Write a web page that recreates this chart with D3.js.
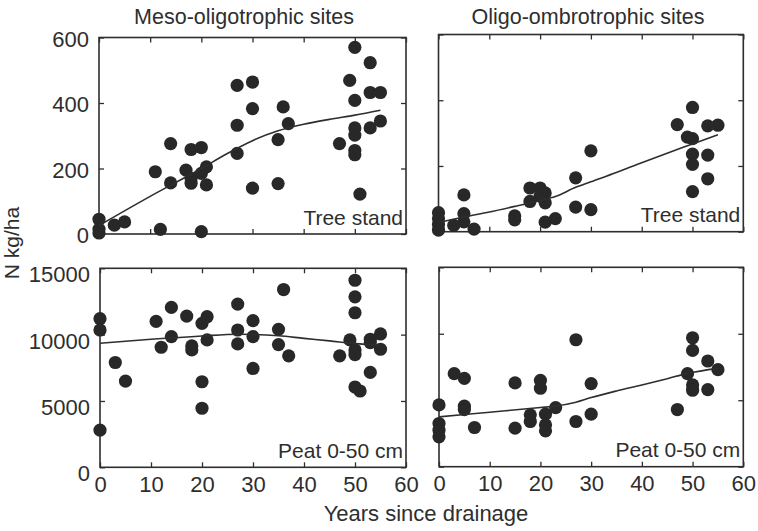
<!DOCTYPE html>
<html>
<head>
<meta charset="utf-8">
<script src="https://cdn.jsdelivr.net/npm/d3@7"></script>
<style>
  html, body { margin: 0; padding: 0; background: #fff; }
  svg { display: block; }
  text { font-family: "Liberation Sans", Arial, Helvetica, sans-serif; fill: #2e2e2e; }
</style>
</head>
<body>
<svg id="chart" width="758" height="531"></svg>
<script>
// Years since drainage — tick values shared by every panel
const yearTicks = [0, 10, 20, 30, 40, 50, 60];
const treeTicks = [0, 200, 400, 600];
const peatTicks = [0, 5000, 10000, 15000];

const columnTitles = ["Meso-oligotrophic sites", "Oligo-ombrotrophic sites"];
const rowLabels = ["Tree stand", "Peat 0-50 cm"];
const yAxisTitle = "N kg/ha";
const xAxisTitle = "Years since drainage";

// Meso-oligotrophic sites, tree stand
const mesoTreeYears = [0,0,0,3,5,11,12,14,14,17,18,18,18,20,20,20,21,21,27,27,27,30,30,30,35,35,36,37,47,49,50,50,50,50,50,50,51,53,53,53,55,55];
const mesoTreeN = [45,15,3,27,37,190,14,276,156,195,258,170,155,264,185,7,205,150,454,332,246,464,383,140,288,154,388,337,276,469,570,408,324,302,255,242,122,523,432,324,432,345];
const mesoTreeFitYears = [0,10,20,25,30,35,40,45,50,55];
const mesoTreeFitN = [26,115,200,245,285,315,335,350,363,378];

// Oligo-ombrotrophic sites, tree stand
const oligoTreeYears = [0,0,0,0,3,5,5,5,7,15,15,18,20,18,21,21,20,21,23,27,27,30,30,47,49,50,50,50,50,50,53,53,53,55];
const oligoTreeN = [58,40,22,5,19,112,55,30,8,48,36,133,133,92,118,88,108,29,40,164,75,67,246,326,288,283,378,236,205,122,322,233,161,324];
const oligoTreeFitYears = [0,5,10,15,20,23,27,30,35,40,45,50,55];
const oligoTreeFitN = [28,45,60,77,95,107,135,152,180,210,239,267,295];

// Meso-oligotrophic sites, peat 0-50 cm
const mesoPeatYears = [0,0,0,3,5,11,12,14,14,17,18,18,20,21,21,20,20,27,27,27,30,30,30,36,35,35,37,47,50,50,50,49,50,50,50,51,53,53,53,55,55];
const mesoPeatN = [11200,10350,2800,7900,6500,11000,9050,12050,9850,11400,9150,8850,10850,11350,9600,6450,4450,12300,10350,9300,11050,9850,7450,13400,10400,9250,8400,8400,14100,12850,11650,9600,8850,8500,6050,5750,9650,9400,7150,10050,8900];
const mesoPeatFitYears = [0,10,20,27,35,40,45,50,55];
const mesoPeatFitN = [9350,9650,9900,10030,9920,9720,9530,9320,9220];

// Oligo-ombrotrophic sites, peat 0-50 cm
const oligoPeatYears = [0,0,0,0,3,5,5,5,7,15,15,18,18,20,20,21,21,21,23,27,27,30,30,47,49,50,50,50,50,53,53,55];
const oligoPeatN = [4650,3250,2750,2250,7000,6650,4550,4300,2950,6300,2900,3900,3400,6500,5900,3950,3150,2700,4450,9550,3400,6250,3950,4300,7000,9700,8750,6150,5750,7950,5800,7300];
const oligoPeatFitYears = [0,10,20,23,27,30,35,40,45,49,55];
const oligoPeatFitN = [3750,4100,4450,4560,4850,5200,5700,6150,6620,7020,7400];

const ink = "#2e2e2e";
const svg = d3.select("#chart");

const panels = [
  { box: { left: 99, right: 406, bottom: 234, top: 37.5 }, yDomain: [0, 600], yTicks: treeTicks,
    xs: mesoTreeYears, ys: mesoTreeN, fx: mesoTreeFitYears, fy: mesoTreeFitN,
    label: rowLabels[0], title: columnTitles[0], showY: true, showX: false },
  { box: { left: 438.5, right: 743.3, bottom: 231.7, top: 34.5 }, yDomain: [0, 600], yTicks: treeTicks,
    xs: oligoTreeYears, ys: oligoTreeN, fx: oligoTreeFitYears, fy: oligoTreeFitN,
    label: rowLabels[0], title: columnTitles[1], showY: false, showX: false },
  { box: { left: 100, right: 406, bottom: 467.3, top: 268.3 }, yDomain: [0, 15000], yTicks: peatTicks,
    xs: mesoPeatYears, ys: mesoPeatN, fx: mesoPeatFitYears, fy: mesoPeatFitN,
    label: rowLabels[1], title: null, showY: true, showX: true },
  { box: { left: 439, right: 743.3, bottom: 466.7, top: 267.3 }, yDomain: [0, 15000], yTicks: peatTicks,
    xs: oligoPeatYears, ys: oligoPeatN, fx: oligoPeatFitYears, fy: oligoPeatFitN,
    label: rowLabels[1], title: null, showY: false, showX: true }
];

const titleX = [244, 588];

panels.forEach((p, i) => {
  const b = p.box;
  const x = d3.scaleLinear().domain([0, 60]).range([b.left, b.right]);
  const y = d3.scaleLinear().domain(p.yDomain).range([b.bottom, b.top]);
  const g = svg.append("g");

  // inward ticks on all four sides
  const styleAxis = sel => {
    sel.select(".domain").remove();
    sel.selectAll(".tick line").attr("stroke", ink).attr("stroke-width", 1.3);
    sel.selectAll(".tick text").style("font-size", "22px").attr("fill", ink);
  };
  g.append("g").attr("transform", `translate(0,${b.bottom})`)
    .call(d3.axisBottom(x).tickValues(yearTicks).tickSize(-5).tickPadding(9)
      .tickFormat(p.showX ? d3.format("d") : ""))
    .call(styleAxis);
  g.append("g").attr("transform", `translate(0,${b.top})`)
    .call(d3.axisTop(x).tickValues(yearTicks).tickSize(-5).tickFormat(""))
    .call(styleAxis);
  const left = g.append("g").attr("transform", `translate(${b.left},0)`)
    .call(d3.axisLeft(y).tickValues(p.yTicks).tickSize(-5).tickPadding(10)
      .tickFormat(p.showY ? d3.format("d") : ""))
    .call(styleAxis);
  left.selectAll(".tick text").attr("dy", i < 2 ? "0.4em" : "0.62em");
  g.append("g").attr("transform", `translate(${b.right},0)`)
    .call(d3.axisRight(y).tickValues(p.yTicks).tickSize(-5).tickFormat(""))
    .call(styleAxis);

  // frame
  g.append("rect")
    .attr("x", b.left).attr("y", b.top)
    .attr("width", b.right - b.left).attr("height", b.bottom - b.top)
    .attr("fill", "none").attr("stroke", ink).attr("stroke-width", 1.6);

  // observations
  g.append("g").selectAll("circle")
    .data(p.xs.map((v, k) => [v, p.ys[k]]))
    .join("circle")
    .attr("cx", d => x(d[0])).attr("cy", d => y(d[1]))
    .attr("r", 6.6).attr("fill", "#282828");

  // smoothed trend
  const line = d3.line().x(d => x(d[0])).y(d => y(d[1])).curve(d3.curveMonotoneX);
  g.append("path")
    .datum(p.fx.map((v, k) => [v, p.fy[k]]))
    .attr("d", line).attr("fill", "none").attr("stroke", ink).attr("stroke-width", 1.6);

  // panel label
  g.append("text")
    .attr("x", b.right - 3).attr("y", b.bottom - 9.5)
    .attr("text-anchor", "end").style("font-size", "21px")
    .text(p.label);

  if (p.title) {
    svg.append("text")
      .attr("x", titleX[i]).attr("y", 24)
      .attr("text-anchor", "middle").style("font-size", "21.5px")
      .text(p.title);
  }
});

svg.append("text")
  .attr("transform", "translate(19,243) rotate(-90)")
  .attr("text-anchor", "middle").style("font-size", "21px")
  .text(yAxisTitle);

svg.append("text")
  .attr("x", 426).attr("y", 521)
  .attr("text-anchor", "middle").style("font-size", "22px")
  .text(xAxisTitle);
</script>
</body>
</html>
